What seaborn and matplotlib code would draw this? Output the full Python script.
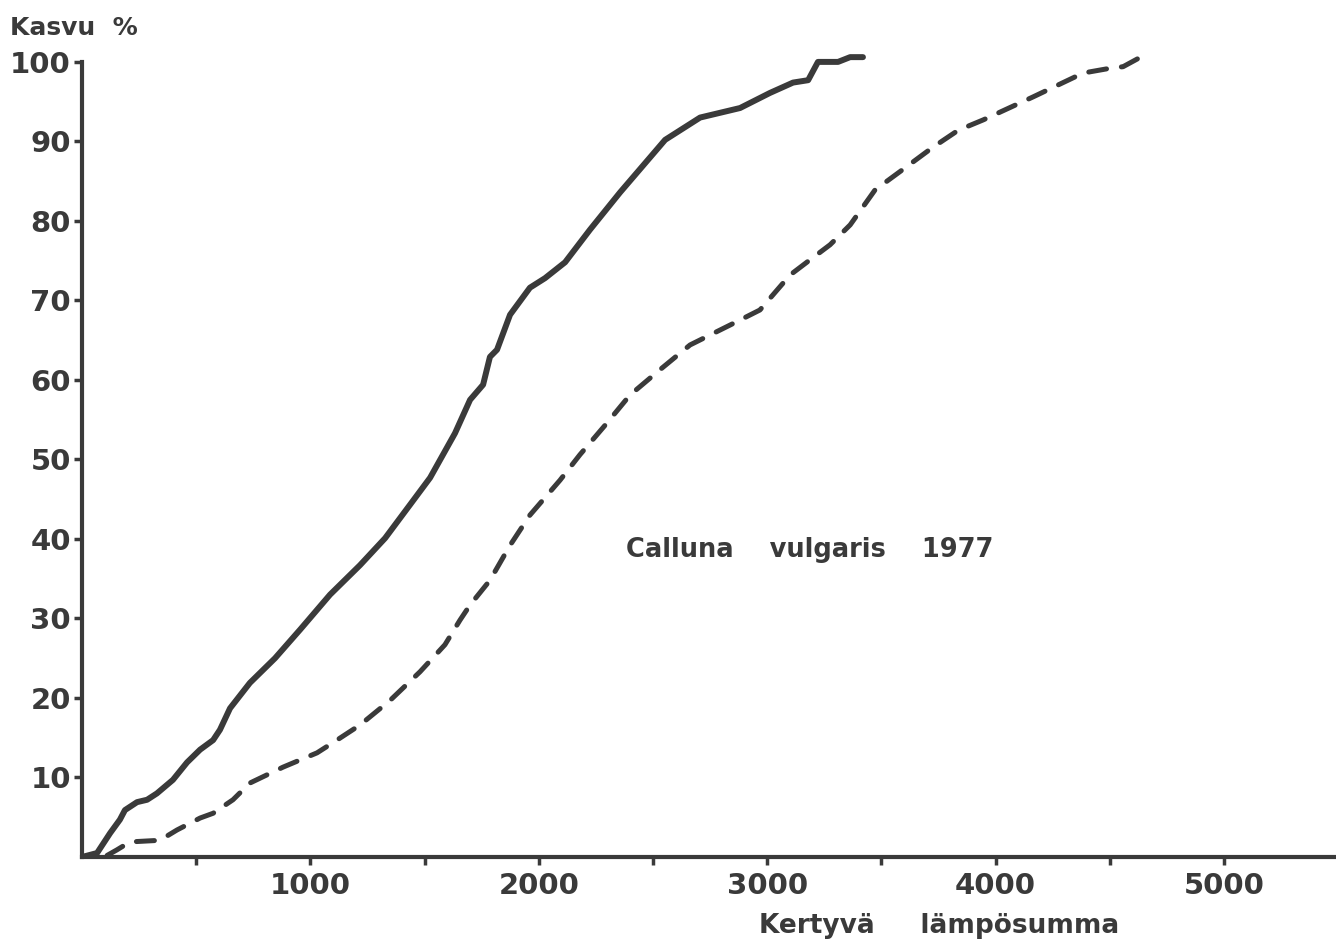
import matplotlib
matplotlib.use("Agg")
import matplotlib.pyplot as plt
import seaborn as sns
import pandas as pd

# Cumulative growth (%) against accumulated heat sum, Calluna vulgaris 1977
solid_heat = [0, 66, 123, 166, 188, 241, 285, 328, 398, 460, 517, 574, 604, 648, 735,
              845, 955, 1086, 1217, 1327, 1436, 1524, 1633, 1699, 1756, 1786, 1817,
              1874, 1961, 2027, 2115, 2224, 2356, 2553, 2706, 2881, 3012, 3113, 3179,
              3222, 3310, 3363, 3419]
solid_growth = [0, 0.5, 3, 4.7, 5.9, 6.9, 7.2, 8, 9.7, 11.9, 13.5, 14.7, 16, 18.7, 21.9,
                25, 28.6, 33, 36.7, 40.1, 44.3, 47.7, 53.3, 57.5, 59.4, 62.9, 63.8,
                68.2, 71.6, 72.8, 74.8, 78.9, 83.6, 90.2, 93, 94.2, 96.1, 97.4, 97.7,
                100, 100, 100.6, 100.6]

dashed_heat = [110, 153, 210, 341, 416, 517, 574, 661, 735, 880, 1029, 1116, 1217, 1349,
               1480, 1589, 1655, 1699, 1786, 1874, 1961, 2093, 2180, 2290, 2399, 2531,
               2662, 2837, 2968, 3100, 3187, 3275, 3363, 3472, 3581, 3722, 3836, 3945,
               4164, 4383, 4501, 4558, 4654]
dashed_growth = [0.2, 0.9, 1.9, 2.1, 3.4, 4.9, 5.5, 7.2, 9.3, 11.3, 13.1, 14.7, 16.6, 19.7,
                 23.3, 26.7, 29.8, 31.7, 34.8, 39.2, 43, 47.4, 50.6, 54.3, 58.1, 61.3,
                 64.4, 66.9, 68.8, 73.2, 75.1, 77, 79.5, 83.9, 86.2, 89.2, 91.4, 92.7,
                 95.6, 98.6, 99.2, 99.4, 100.9]

x_ticks = [500, 1000, 1500, 2000, 2500, 3000, 3500, 4000, 4500, 5000]
x_labels = ["", "1000", "", "2000", "", "3000", "", "4000", "", "5000"]
y_ticks = [10, 20, 30, 40, 50, 60, 70, 80, 90, 100]

ink = "#3a3a3a"

sns.set_style("white")
plt.rcParams["font.family"] = ["DejaVu Sans"]
plt.rcParams["font.weight"] = "bold"

fig = plt.figure(figsize=(13.36, 9.43), dpi=100)
ax = fig.add_axes([82 / 1336, 86 / 943, 1254 / 1336, 811 / 943])

solid = pd.DataFrame({"heat": solid_heat, "growth": solid_growth})
dashed = pd.DataFrame({"heat": dashed_heat, "growth": dashed_growth})

sns.lineplot(data=solid, x="heat", y="growth", ax=ax, color=ink, linewidth=4.3,
             estimator=None, sort=False, solid_capstyle="round", solid_joinstyle="round")
sns.lineplot(data=dashed, x="heat", y="growth", ax=ax, color=ink, linewidth=3.6,
             estimator=None, sort=False, dashes=False, linestyle=(0, (3.6, 3.0)),
             dash_capstyle="round")

ax.set_xlim(0, 5490)
ax.set_ylim(0, 102)

for side in ("top", "right"):
    ax.spines[side].set_visible(False)
for side in ("left", "bottom"):
    ax.spines[side].set_linewidth(3.0)
    ax.spines[side].set_color(ink)
ax.spines["left"].set_bounds(0, 100)

ax.set_xticks(x_ticks)
ax.set_xticklabels(x_labels)
ax.set_yticks(y_ticks)
ax.set_yticklabels([str(v) for v in y_ticks])
ax.tick_params(axis="x", bottom=True, direction="out", length=6, width=2.5, color=ink,
               labelsize=21, labelcolor=ink, pad=5)
ax.tick_params(axis="y", left=True, direction="out", length=6, width=2.5, color=ink,
               labelsize=21, labelcolor=ink, pad=2)
for lab in ax.get_xticklabels() + ax.get_yticklabels():
    lab.set_fontweight("bold")

ax.set_xlabel("")
ax.set_ylabel("")

fig.text(10 / 1336, 1 - 28 / 943, "Kasvu  %", fontsize=18, fontweight="bold",
         color=ink, ha="left", va="center")
fig.text(939 / 1336, 1 - 926 / 943, "Kertyvä     lämpösumma", fontsize=19,
         fontweight="bold", color=ink, ha="center", va="center")
fig.text(810 / 1336, 1 - 550 / 943, "Calluna    vulgaris    1977", fontsize=18.5,
         fontweight="bold", color=ink, ha="center", va="center")

fig.savefig("out.png", dpi=100, facecolor="white")
